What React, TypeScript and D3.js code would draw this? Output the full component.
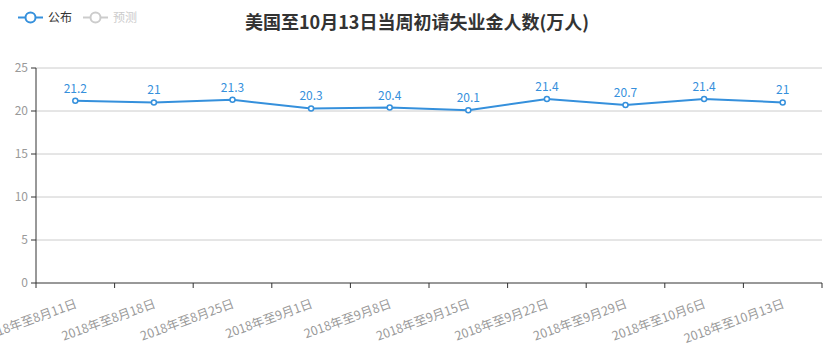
import React from "react";
import * as d3 from "d3";

const title = "美国至10月13日当周初请失业金人数(万人)";
const categories = [
  "2018年至8月11日",
  "2018年至8月18日",
  "2018年至8月25日",
  "2018年至9月1日",
  "2018年至9月8日",
  "2018年至9月15日",
  "2018年至9月22日",
  "2018年至9月29日",
  "2018年至10月6日",
  "2018年至10月13日",
];
const published = [21.2, 21, 21.3, 20.3, 20.4, 20.1, 21.4, 20.7, 21.4, 21];
const yTicks = [0, 5, 10, 15, 20, 25];
const legendItems = ["公布", "预测"];

const W = 830;
const H = 355;
const left = 36;
const right = 822;
const top = 68;
const bottom = 283;
const lineColor = "#3590dc";
const font = "'Noto Sans CJK SC', 'Noto Sans', sans-serif";

export default function App() {
  const x = d3.scaleBand<string>().domain(categories).range([left, right]);
  const y = d3.scaleLinear().domain([0, 25]).range([bottom, top]);
  const cx = (c: string) => (x(c) ?? 0) + x.bandwidth() / 2;
  const line = d3
    .line<number>()
    .x((_, i) => cx(categories[i]))
    .y((d) => y(d));
  const boundaries = categories.map((c) => x(c) ?? 0).concat([right]);

  return (
    <svg
      width={W}
      height={H}
      style={{ position: "absolute", left: 0, top: 0, background: "#fff" }}
      fontFamily={font}
    >
      <rect width={W} height={H} fill="#fff" />
      {/* title */}
      <text x={417} y={29} textAnchor="middle" fontSize={18} fontWeight="bold" fill="#333">
        {title}
      </text>
      {/* legend */}
      {legendItems.map((name, i) => {
        const ox = 18 + i * 65;
        const col = i === 0 ? lineColor : "#ccc";
        return (
          <g key={name}>
            <line x1={ox} x2={ox + 25} y1={17.5} y2={17.5} stroke={col} strokeWidth={2} />
            <circle cx={ox + 12.5} cy={17.5} r={5} fill="#fff" stroke={col} strokeWidth={2} />
            <text x={ox + 30} y={22} fontSize={12} fill={i === 0 ? "#333" : "#ccc"}>
              {name}
            </text>
          </g>
        );
      })}
      {/* grid */}
      {yTicks.map((t) => (
        <g key={t}>
          {t !== 0 && (
            <line x1={left} x2={right} y1={y(t)} y2={y(t)} stroke="#ccc" strokeWidth={1} />
          )}
          <line x1={left - 5} x2={left} y1={y(t)} y2={y(t)} stroke="#333" strokeWidth={1} />
          <text x={left - 8} y={y(t)} dy="0.35em" textAnchor="end" fontSize={12} fill="#999">
            {t}
          </text>
        </g>
      ))}
      {/* axes */}
      <line x1={left} x2={left} y1={top} y2={bottom} stroke="#333" strokeWidth={1} />
      <line x1={left} x2={right} y1={bottom} y2={bottom} stroke="#333" strokeWidth={1} />
      {boundaries.map((bx, i) => (
        <line key={i} x1={bx} x2={bx} y1={bottom} y2={bottom + 5} stroke="#333" strokeWidth={1} />
      ))}
      {categories.map((c) => (
        <text
          key={c}
          transform={`translate(${cx(c) + 1},${bottom + 20}) rotate(-20)`}
          textAnchor="end"
          dy="0.35em"
          fontSize={12.5}
          fill="#999"
        >
          {c}
        </text>
      ))}
      {/* series */}
      <path d={line(published) ?? ""} fill="none" stroke={lineColor} strokeWidth={2} />
      {published.map((v, i) => (
        <g key={i}>
          <circle cx={cx(categories[i])} cy={y(v)} r={2.5} fill="#fff" stroke={lineColor} strokeWidth={1.5} />
          <text x={cx(categories[i])} y={y(v) - 8} textAnchor="middle" fontSize={12} fill={lineColor}>
            {v}
          </text>
        </g>
      ))}
    </svg>
  );
}
